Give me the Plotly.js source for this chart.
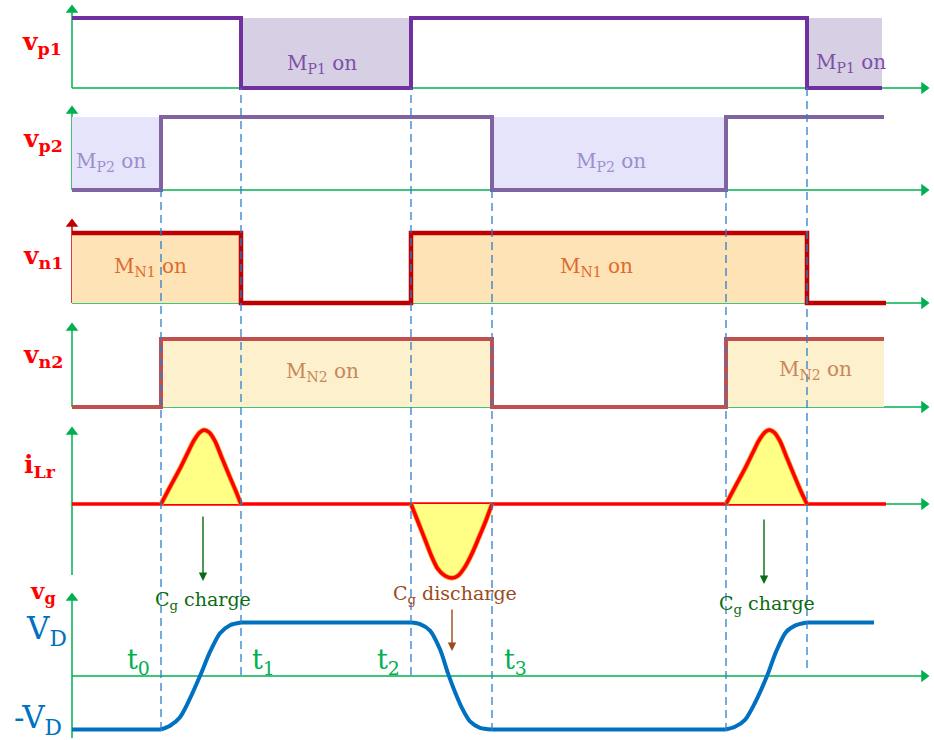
<!DOCTYPE html>
<html>
<head>
<meta charset="utf-8">
<script src="https://cdn.plot.ly/plotly-3.0.1.min.js"></script>
<style>
  html, body { margin: 0; padding: 0; background: #ffffff; }
  #chart { width: 934px; height: 740px; }
</style>
</head>
<body>
<div id="chart"></div>
<script>
// ---- switching instants (time units) ----
const edges = [8.9, 16.9, 33.9, 42.0, 65.4, 73.5];   // t0 .. t5
const edgeLabels = ['t<sub>0</sub>', 't<sub>1</sub>', 't<sub>2</sub>', 't<sub>3</sub>'];

// ---- gate drive waveforms (0 = low, 1 = high, step after each point) ----
const vp1T = [0, 16.9, 33.9, 73.5, 81.0];
const vp1V = [1, 0, 1, 0, 0];
const vp2T = [0, 8.9, 42.0, 65.4, 81.2];
const vp2V = [0, 1, 0, 1, 1];
const vn1T = [0, 16.9, 33.9, 73.5, 81.4];
const vn1V = [1, 0, 1, 0, 0];
const vn2T = [0, 8.9, 42.0, 65.4, 81.2];
const vn2V = [0, 1, 0, 1, 1];

// ---- conduction intervals of each switch ----
const mp1On = [[16.9, 33.9], [73.5, 81.0]];
const mp2On = [[0, 8.9], [42.0, 65.4]];
const mn1On = [[0, 16.9], [33.9, 73.5]];
const mn2On = [[8.9, 42.0], [65.4, 81.2]];

// ---- resonant inductor current (normalised) ----
const iLrEnd = 81.4;
const pulse1T = [8.9, 9.8, 10.8, 11.6, 12.2, 12.8, 13.2, 13.7, 14.3, 15.0, 15.8, 16.4, 16.9];
const pulse1V = [0, 0.23, 0.48, 0.7, 0.86, 0.97, 1.0, 0.97, 0.85, 0.62, 0.36, 0.17, 0];
const pulse2T = [33.9, 34.6, 35.3, 36.0, 36.6, 37.3, 38.0, 38.6, 39.3, 40.0, 40.7, 41.4, 42.0];
const pulse2V = [0, -0.24, -0.48, -0.72, -0.88, -0.97, -1.0, -0.97, -0.85, -0.67, -0.45, -0.22, 0];
const pulse3T = [65.4, 66.3, 67.3, 68.1, 68.7, 69.3, 69.7, 70.2, 70.8, 71.5, 72.3, 72.9, 73.5];
const pulse3V = [0, 0.23, 0.48, 0.7, 0.86, 0.97, 1.0, 0.97, 0.85, 0.62, 0.36, 0.17, 0];

// ---- gate voltage (in units of V_D) ----
const vgEnd = 80.2;
const rise1T = [8.9, 9.8, 10.8, 11.8, 12.8, 13.8, 14.8, 15.8, 16.9];
const rise1V = [-1, -0.93, -0.77, -0.42, 0.0, 0.45, 0.8, 0.95, 1.0];
const fallT = [33.9, 34.8, 35.8, 36.8, 37.6, 38.3, 39.0, 39.8, 40.8, 42.0];
const fallV = [1.0, 0.97, 0.85, 0.5, 0.05, -0.3, -0.6, -0.85, -0.97, -1.0];
const rise2T = [65.4, 66.3, 67.3, 68.3, 69.5, 70.4, 71.4, 72.4, 73.5];
const rise2V = [-1, -0.95, -0.82, -0.5, 0.0, 0.45, 0.82, 0.95, 1.0];

// ---- page geometry helpers ----
const W = 934, H = 740;
const px = v => v / W;            // horizontal pixel -> paper
const py = v => 1 - v / H;        // vertical pixel -> paper

// panel: pixel of level 0, pixel of level 1, panel top and bottom pixels
function panel(zero, one, top, bot) {
  const s = zero - one;
  return {
    domain: [py(bot), py(top)],
    range: [(zero - bot) / s, (zero - top) / s],
    visible: false, fixedrange: true, anchor: 'x'
  };
}

const FONT = 'DejaVu Serif, Liberation Serif, serif';
const GREEN = '#00b050';
const X_END = 85.2;   // horizontal axis arrow position

const traces = [];
function add(t) { t.hoverinfo = 'skip'; t.showlegend = false; traces.push(t); }

// shaded conduction intervals
function shade(intervals, yaxis, color) {
  intervals.forEach(iv => add({
    x: iv, y: [1, 1], yaxis: yaxis, mode: 'none', fill: 'tozeroy', fillcolor: color
  }));
}
shade(mp1On, 'y', '#d7cfe4');
shade(mp2On, 'y2', '#e6e4fb');
shade(mn1On, 'y3', '#fde3b6');
shade(mn2On, 'y4', '#fdf0cd');

// step waveforms
function stepLine(t, v, yaxis, color, width) {
  add({x: t, y: v, yaxis: yaxis, mode: 'lines', line: {color: color, width: width, shape: 'hv'}});
}
stepLine(vp1T, vp1V, 'y', '#7030a0', 4);
stepLine(vp2T, vp2V, 'y2', '#8064a2', 4);
stepLine(vn1T, vn1V, 'y3', '#c00000', 4.5);
stepLine(vn2T, vn2V, 'y4', '#c0504d', 4);

// inductor current: flat zero level, then the three resonant pulses
add({x: [0, iLrEnd], y: [0, 0], yaxis: 'y5', mode: 'lines', line: {color: '#ff0000', width: 3.5}});
[[pulse1T, pulse1V], [pulse2T, pulse2V], [pulse3T, pulse3V]].forEach(([t, v]) => {
  add({x: t, y: v, yaxis: 'y5', mode: 'lines', fill: 'tozeroy', fillcolor: '#ffff85',
       line: {color: '#ff9a1a', width: 5, shape: 'spline', smoothing: 0.8}});
  add({x: t, y: v, yaxis: 'y5', mode: 'lines',
       line: {color: '#ff0000', width: 3.5, shape: 'spline', smoothing: 0.8}});
});

// gate voltage: flat plateaus joined by the charge / discharge transitions
const vgBlue = {color: '#0070c0', width: 4};
add({x: [0, rise1T[0]], y: [rise1V[0], rise1V[0]], yaxis: 'y6', mode: 'lines', line: vgBlue});
add({x: [rise1T[rise1T.length - 1], fallT[0]], y: [1, 1], yaxis: 'y6', mode: 'lines', line: vgBlue});
add({x: [fallT[fallT.length - 1], rise2T[0]], y: [-1, -1], yaxis: 'y6', mode: 'lines', line: vgBlue});
add({x: [rise2T[rise2T.length - 1], vgEnd], y: [1, 1], yaxis: 'y6', mode: 'lines', line: vgBlue});
[[rise1T, rise1V], [fallT, fallV], [rise2T, rise2V]].forEach(([t, v]) => {
  add({x: t, y: v, yaxis: 'y6', mode: 'lines',
       line: {color: '#0070c0', width: 4, shape: 'spline', smoothing: 0.8}});
});

// coordinate axes: [yaxis, top of vertical arrow, bottom of vertical line, vertical colour]
const axesSpec = [
  ['y', 1.114, 0, GREEN],
  ['y2', 1.082, 0, GREEN],
  ['y3', 1.129, 0, '#c00000'],
  ['y4', 1.162, 0, GREEN],
  ['y5', 0.973, -0.96, GREEN],
  ['y6', 1.458, -1.16, GREEN]
];
const shapes = [];
axesSpec.forEach(([ya, top, bot, vcol]) => {
  shapes.push({type: 'line', xref: 'x', yref: ya, x0: 0, x1: X_END, y0: 0, y1: 0,
               line: {color: GREEN, width: 1.5}, layer: 'below'});
  shapes.push({type: 'line', xref: 'x', yref: ya, x0: 0, x1: 0, y0: bot, y1: top,
               line: {color: vcol, width: 1.5}, layer: 'below'});
  add({x: [X_END], y: [0], yaxis: ya, mode: 'markers', cliponaxis: false,
       marker: {symbol: 'triangle-right', size: 11, color: GREEN}});
  add({x: [0], y: [top], yaxis: ya, mode: 'markers', cliponaxis: false,
       marker: {symbol: 'triangle-up', size: 11, color: vcol}});
});

// dashed timing markers: [edge index, top pixel, bottom pixel]
const dashSpec = [[0, 190, 730], [1, 88, 675], [2, 88, 675], [3, 190, 731], [4, 190, 731], [5, 88, 668]];
dashSpec.forEach(([i, top, bot]) => {
  shapes.push({type: 'line', xref: 'x', yref: 'paper', x0: edges[i], x1: edges[i],
               y0: py(bot), y1: py(top),
               line: {color: '#2a7fd0', width: 1.3, dash: '8px,5px'}, layer: 'above'});
});

// text labels
const annotations = [];
function label(text, x, y, size, color, bold) {
  annotations.push({
    text: bold ? '<b>' + text + '</b>' : text,
    xref: 'paper', yref: 'paper', x: px(x), y: py(y),
    xanchor: 'center', yanchor: 'middle', showarrow: false,
    font: {family: FONT, size: size, color: color}
  });
}
label('v<sub>p1</sub>', 42, 43, 25, '#ff0000', true);
label('v<sub>p2</sub>', 43, 140, 25, '#ff0000', true);
label('v<sub>n1</sub>', 43, 257, 25, '#ff0000', true);
label('v<sub>n2</sub>', 43, 356, 25, '#ff0000', true);
label('i<sub>Lr</sub>', 40, 466, 25, '#ff0000', true);
label('v<sub>g</sub>', 43, 592, 23, '#ff0000', true);
label('V<sub>D</sub>', 46, 630, 31, '#0070c0', false);
label('-V<sub>D</sub>', 38, 719, 31, '#0070c0', false);

label('M<sub>P1</sub> on', 322, 64, 20, '#7d50a8', false);
label('M<sub>P1</sub> on', 851, 63, 20, '#7d50a8', false);
label('M<sub>P2</sub> on', 111, 162, 20, '#9a8fcb', false);
label('M<sub>P2</sub> on', 611, 162, 20, '#9a8fcb', false);
label('M<sub>N1</sub> on', 150, 267, 20, '#e06a2e', false);
label('M<sub>N1</sub> on', 596, 267, 20, '#e06a2e', false);
label('M<sub>N2</sub> on', 322, 372, 20, '#c9865a', false);
label('M<sub>N2</sub> on', 815, 370, 20, '#c9865a', false);

const tLabelX = [138, 263, 388, 515];
edgeLabels.forEach((t, i) => label(t, tLabelX[i], 661, 27, GREEN, false));

label('C<sub>g</sub> charge', 203, 600, 19, '#0b6b12', false);
label('C<sub>g</sub> charge', 767, 604, 19, '#0b6b12', false);
label('C<sub>g</sub> discharge', 455, 594, 19, '#9c4a1c', false);

// pointer arrows under the current pulses
function pointer(x, yTail, yTip, color) {
  annotations.push({
    xref: 'paper', yref: 'paper', axref: 'paper', ayref: 'paper',
    x: px(x), y: py(yTip), ax: px(x), ay: py(yTail), text: '',
    showarrow: true, arrowhead: 2, arrowsize: 1.2, arrowwidth: 1.4, arrowcolor: color
  });
}
pointer(203, 515, 581, '#0b6b12');
pointer(764, 518, 584, '#0b6b12');
pointer(452, 608, 651, '#9c4a1c');

const layout = {
  width: W, height: H,
  margin: {l: 0, r: 0, t: 0, b: 0},
  paper_bgcolor: '#ffffff', plot_bgcolor: 'rgba(0,0,0,0)',
  showlegend: false,
  xaxis: {range: [-7.2, 86.2], domain: [0, 1], visible: false, fixedrange: true},
  yaxis: panel(88, 18, 0, 96),
  yaxis2: panel(190, 117, 96, 200),
  yaxis3: panel(303, 233, 200, 312),
  yaxis4: panel(407, 339, 312, 416),
  yaxis5: panel(504, 430, 416, 585),
  yaxis6: panel(676, 622.5, 585, 740),
  shapes: shapes,
  annotations: annotations
};

Plotly.newPlot('chart', traces, layout, {staticPlot: true, displayModeBar: false});
</script>
</body>
</html>
